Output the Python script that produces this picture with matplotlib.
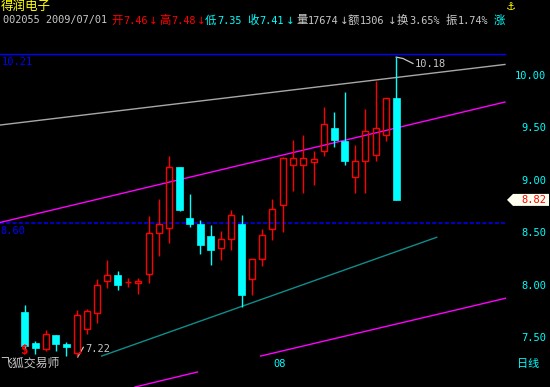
import matplotlib
matplotlib.use('Agg')
import matplotlib.pyplot as plt
from matplotlib.patches import Rectangle, Polygon

# daily candles, oldest first
opens = [7.75, 7.46, 7.40, 7.53, 7.45, 7.36, 7.59, 7.74, 8.05, 8.10, 8.04, 8.03,
         8.11, 8.50, 8.55, 9.13, 8.65, 8.59, 8.48, 8.36, 8.45, 8.59, 8.07, 8.26,
         8.54, 8.77, 9.15, 9.15, 9.18, 9.29, 9.50, 9.38, 9.04, 9.19, 9.25, 9.44, 9.79]
highs = [7.82, 7.48, 7.58, 7.53, 7.47, 7.77, 7.78, 8.07, 8.25, 8.14, 8.08, 8.08,
         8.67, 8.83, 9.24, 9.13, 8.88, 8.63, 8.58, 8.52, 8.72, 8.68, 8.26, 8.54,
         8.83, 9.23, 9.39, 9.44, 9.29, 9.70, 9.66, 9.85, 9.34, 9.69, 9.95, 9.79, 10.18]
lows = [7.40, 7.35, 7.38, 7.38, 7.33, 7.33, 7.54, 7.65, 7.98, 7.96, 7.99, 7.92,
        8.03, 8.29, 8.41, 8.71, 8.56, 8.30, 8.20, 8.25, 8.34, 7.80, 7.91, 8.19,
        8.44, 8.51, 8.90, 8.89, 8.96, 9.24, 9.32, 9.15, 8.89, 8.89, 9.19, 9.38, 8.82]
closes = [7.43, 7.41, 7.54, 7.45, 7.42, 7.72, 7.76, 8.01, 8.10, 8.01, 8.04, 8.05,
          8.50, 8.59, 9.13, 8.72, 8.59, 8.39, 8.34, 8.45, 8.68, 7.91, 8.26, 8.49,
          8.73, 9.22, 9.22, 9.22, 9.21, 9.54, 9.39, 9.19, 9.19, 9.48, 9.50, 9.79, 8.82]

# trend lines: (candle index, price) end points
gray_x, gray_y = [-2.42, 46.55], [9.533, 10.11]
chan_up_x, chan_up_y = [-2.42, 46.55], [8.605, 9.752]
chan_lo_x, chan_lo_y = [22.86, 46.6], [7.333, 7.883]
chan_lo2_x, chan_lo2_y = [10.67, 16.73], [7.038, 7.181]
teal_x, teal_y = [7.44, 39.93], [7.333, 8.464]

top_level = 10.21
mid_level = 8.60
price_ticks = [10.00, 9.50, 9.00, 8.50, 8.00, 7.50]
high_label = '10.18'
low_label = '7.22'

RED = '#FF0000'
CYAN = '#00FFFF'
BLUE = '#0000FF'
MAGENTA = '#FF00FF'
LGRAY = '#C8C8C8'
YELLOW = '#FFFF00'
CJK = 'Noto Sans CJK SC'
MONO = 'DejaVu Sans Mono'
ARROW = 'DejaVu Sans'

W, H = 550, 387
X0, DX = 25.0, 10.31      # pixel x of first candle, spacing
Y0, PY = 76.0, 105.0      # pixel row of 10.00, pixels per 1.00


def xi(px):
    return (px - X0) / DX


def pr(py):
    return 10.0 - (py - Y0) / PY


def ftext(x, y, s, color, font, size, ha='left', **kw):
    fig.text(x / W, 1 - y / H, s, color=color, family=font, fontsize=size,
             ha=ha, va='center', **kw)


fig = plt.figure(figsize=(W / 100, H / 100), dpi=100)
fig.patch.set_facecolor('black')
ax = fig.add_axes([0, 0, 1, 1])
ax.set_facecolor('black')
ax.set_xlim(xi(0), xi(W))
ax.set_ylim(pr(H), pr(0))
ax.axis('off')

right_edge = xi(505)

# level lines
ax.plot([xi(0), right_edge], [top_level, top_level], color=BLUE, lw=1.0)
ax.plot([xi(0), right_edge], [mid_level, mid_level], color=BLUE, lw=1.1,
        dashes=(2.7, 1.4))

# trend lines
ax.plot(gray_x, gray_y, color='#A8A8A8', lw=1.0)
ax.plot(chan_up_x, chan_up_y, color=MAGENTA, lw=1.0)
ax.plot(chan_lo_x, chan_lo_y, color=MAGENTA, lw=1.0)
ax.plot(chan_lo2_x, chan_lo2_y, color=MAGENTA, lw=1.0)
ax.plot(teal_x, teal_y, color='#108C8C', lw=1.0)

# candles
for i, (o, h, l, c) in enumerate(zip(opens, highs, lows, closes)):
    if c >= o:
        bw = 6 / DX
        ax.add_patch(Rectangle((i - bw / 2, o), bw, c - o, fill=False,
                               ec=RED, lw=1.0, zorder=3))
        ax.vlines(i, c, h, color=RED, lw=1.0, zorder=3)
        ax.vlines(i, l, o, color=RED, lw=1.0, zorder=3)
    else:
        bw = 7 / DX
        ax.vlines(i, l, h, color=CYAN, lw=1.0, zorder=3)
        ax.add_patch(Rectangle((i - bw / 2, c), bw, o - c, fc=CYAN, ec=CYAN,
                               lw=0.5, zorder=3))

# high / low markers
hi = highs.index(max(highs))
ax.plot([hi, xi(403), xi(413)], [highs[hi], pr(58.5), pr(63.5)],
        color=LGRAY, lw=0.9)
ax.text(xi(415), pr(64), high_label, color=LGRAY, family=MONO, fontsize=7.5,
        va='center', ha='left')
ax.plot([xi(77.7), xi(83.3)], [pr(357), pr(347.3)], color=LGRAY, lw=0.9)
ax.text(xi(85.5), pr(349), low_label, color=LGRAY, family=MONO, fontsize=7.5,
        va='center', ha='left')
ax.text(0, pr(351), '$', color=RED, family=MONO, fontsize=9, weight='bold',
        ha='center', va='center')

# level labels
ax.text(xi(2), top_level - 0.075, '%.2f' % top_level, color=BLUE, family=MONO,
        fontsize=7.5, ha='left', va='center')
ax.text(xi(0.5), mid_level - 0.08, '%.2f' % mid_level, color=BLUE, family=MONO,
        fontsize=7.5, ha='left', va='center')

# right price axis
for p in price_ticks:
    ax.text(xi(546), p, '%.2f' % p, color=CYAN, family=MONO, fontsize=7.5,
            ha='right', va='center')

# last close tag
last = closes[-1]
hh = 6 / PY
ax.add_patch(Polygon([(xi(507), last), (xi(513), last + hh), (xi(549), last + hh),
                      (xi(549), last - hh), (xi(513), last - hh)],
                     closed=True, fc='#FFFFF0', ec='none', zorder=4))
ax.text(xi(546), last, '%.2f' % last, color=RED, family=MONO, fontsize=7.5,
        ha='right', va='center', zorder=5)

# header
ftext(1, 6.5, '得润电子', YELLOW, CJK, 9)
header = [
    (3, '002055 2009/07/01', LGRAY, MONO),
    (111, '开', RED, CJK), (123, '7.46', RED, MONO),
    (159, '高', RED, CJK), (171, '7.48', RED, MONO),
    (205, '低', CYAN, CJK), (217, '7.35', CYAN, MONO),
    (247, '收', CYAN, CJK), (259, '7.41', CYAN, MONO),
    (296, '量', LGRAY, CJK), (308, '17674', LGRAY, MONO),
    (348, '额', LGRAY, CJK), (360, '1306', LGRAY, MONO),
    (397, '换', LGRAY, CJK), (409, '3.65%', LGRAY, MONO),
    (446, '振', LGRAY, CJK), (458, '1.74%', LGRAY, MONO),
    (494, '涨', CYAN, CJK),
]
for x, s, col, font in header:
    ftext(x, 20.5, s, col, font, 8.2 if font == CJK else 7.4)
arrows = [(153, RED), (201, RED), (290.5, CYAN), (344, LGRAY), (392.5, LGRAY)]
for x, col in arrows:
    ftext(x, 20.5, '↓', col, ARROW, 7.5, ha='center')
ftext(511, 7, '⚓', YELLOW, ARROW, 8, ha='center', weight='bold')

# footer
ftext(0, 363, '飞狐交易师', LGRAY, CJK, 8.6)
ftext(280, 364, '08', CYAN, MONO, 7.5, ha='center')
ftext(517, 364, '日线', CYAN, CJK, 8)

fig.savefig('out.png', dpi=100, facecolor='black')
